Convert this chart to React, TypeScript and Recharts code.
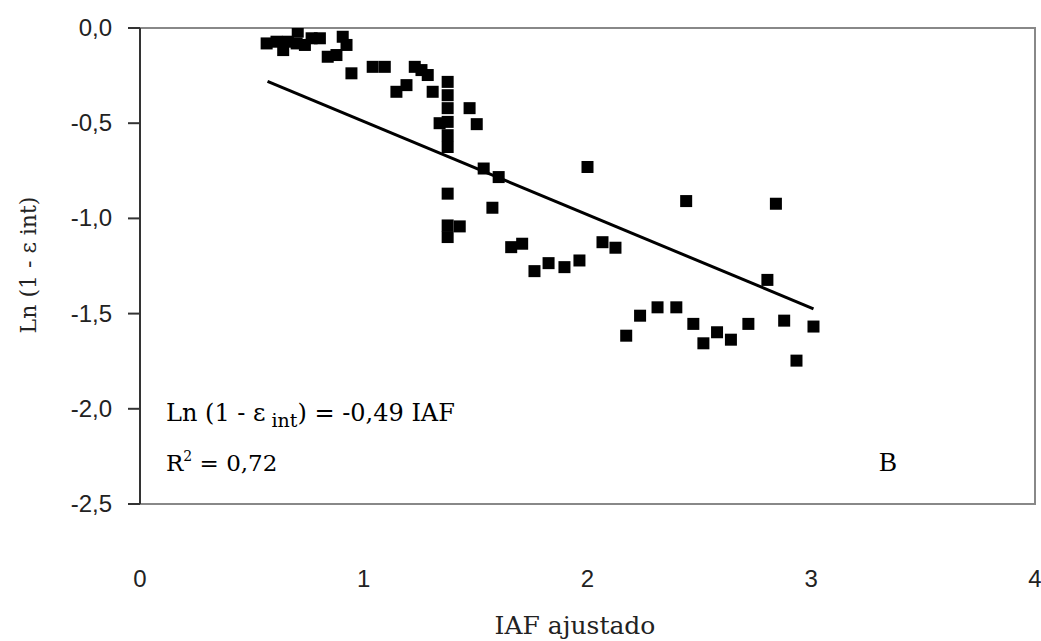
import React from "react";
import {
  ScatterChart,
  Scatter,
  XAxis,
  YAxis,
  ReferenceArea,
} from "recharts";

// measured points: IAF ajustado vs Ln (1 - e int)
const iafValues = [
  0.566, 0.61, 0.64, 0.661, 0.705, 0.7, 0.737, 0.767, 0.804, 0.839, 0.878,
  0.906, 0.923, 0.945, 1.04, 1.094, 1.146, 1.191, 1.228, 1.258, 1.286, 1.308,
  1.375, 1.375, 1.375, 1.339, 1.375, 1.375, 1.375, 1.473, 1.505, 1.536, 1.603,
  1.375, 1.575, 1.375, 1.429, 1.375, 1.659, 1.708, 1.763, 1.826, 1.897, 1.964,
  2.0, 2.067, 2.125, 2.173, 2.235, 2.313, 2.397, 2.441, 2.473, 2.518, 2.579,
  2.641, 2.719, 2.804, 2.842, 2.879, 2.934, 3.01,
];
const lnValues = [
  -0.081, -0.072, -0.116, -0.072, -0.019, -0.081, -0.089, -0.054, -0.054,
  -0.151, -0.142, -0.046, -0.089, -0.238, -0.204, -0.204, -0.335, -0.3, -0.204,
  -0.221, -0.247, -0.335, -0.283, -0.353, -0.421, -0.5, -0.493, -0.563, -0.625,
  -0.421, -0.505, -0.738, -0.783, -0.87, -0.944, -1.037, -1.042, -1.098,
  -1.151, -1.133, -1.277, -1.235, -1.256, -1.221, -0.73, -1.125, -1.154,
  -1.616, -1.511, -1.467, -1.467, -0.909, -1.554, -1.656, -1.598, -1.637,
  -1.554, -1.323, -0.923, -1.537, -1.747, -1.568,
];

// fitted line end points (Ln = -0,49 IAF)
const trendIaf = [0.57, 3.01];
const trendLn = [-0.28, -1.475];

const xTicks = [0, 1, 2, 3, 4];
const yTicks = [-2.5, -2, -1.5, -1, -0.5, 0];

const points = iafValues.map((x, i) => ({ x, y: lnValues[i] }));
const trend = trendIaf.map((x, i) => ({ x, y: trendLn[i] }));

const tickFont = "'Liberation Sans', 'DejaVu Sans', sans-serif";
const slab = "'DejaVu Serif', 'Liberation Serif', serif";
const serif = "'Liberation Serif', 'DejaVu Serif', serif";

const SquareDot = (props: any) => {
  const { cx, cy } = props;
  return <rect x={cx - 6} y={cy - 6} width={12} height={12} fill="#000" />;
};

const XTick = ({ x, payload }: any) => (
  <text x={x} y={587} textAnchor="middle" fontFamily={tickFont} fontSize={24} fill="#222">
    {payload.value}
  </text>
);

const YTick = ({ y, payload }: any) => (
  <text
    x={112}
    y={y}
    dy={8}
    textAnchor="end"
    fontFamily={tickFont}
    fontSize={24}
    fill="#222"
  >
    {payload.value.toFixed(1).replace(".", ",")}
  </text>
);

export default function App() {
  return (
    <div style={{ position: "absolute", left: 0, top: 0, width: 1041, height: 641, background: "#fff" }}>
      <ScatterChart
        width={1041}
        height={641}
        margin={{ top: 28, right: 6, bottom: 30, left: 0 }}
      >
        <ReferenceArea
          x1={0}
          x2={4}
          y1={-2.5}
          y2={0}
          fill="none"
          stroke="#888"
          strokeWidth={2}
          ifOverflow="visible"
        />
        <XAxis
          type="number"
          dataKey="x"
          domain={[0, 4]}
          ticks={xTicks}
          height={107}
          axisLine={false}
          tickLine={false}
          tick={XTick}
          allowDataOverflow
        />
        <YAxis
          type="number"
          dataKey="y"
          domain={[-2.5, 0]}
          ticks={yTicks}
          width={140}
          tickSize={12}
          axisLine={{ stroke: "#333", strokeWidth: 2 }}
          tickLine={{ stroke: "#333", strokeWidth: 2 }}
          tick={YTick}
          allowDataOverflow
        />
        <Scatter data={points} shape={SquareDot} isAnimationActive={false} />
        <Scatter
          data={trend}
          line={{ stroke: "#000", strokeWidth: 3 }}
          shape={() => <g />}
          isAnimationActive={false}
        />
      </ScatterChart>
      <svg
        width={1041}
        height={641}
        style={{ position: "absolute", left: 0, top: 0, pointerEvents: "none" }}
      >
        <text
          x={28}
          y={265}
          transform="rotate(-90 28 265)"
          textAnchor="middle"
          dominantBaseline="central"
          fontFamily={slab}
          fontSize={22}
          fill="#222"
        >
          Ln (1 - ε int)
        </text>
        <text x={575} y={634} textAnchor="middle" fontFamily={slab} fontSize={25} fill="#222">
          IAF ajustado
        </text>
        <text x={166} y={421} fontFamily={slab} fontSize={24} fill="#000">
          Ln (1 - ε
          <tspan fontSize={19} dy={6}> int</tspan>
          <tspan dy={-6}>) = -0,49 IAF</tspan>
        </text>
        <text x={166} y={471} fontFamily={slab} fontSize={23} fill="#000">
          R<tspan fontSize={14} dy={-10}>2</tspan>
          <tspan dy={10}> = 0,72</tspan>
        </text>
        <text x={879} y={471} fontFamily={serif} fontSize={27} fill="#000">
          B
        </text>
      </svg>
    </div>
  );
}
